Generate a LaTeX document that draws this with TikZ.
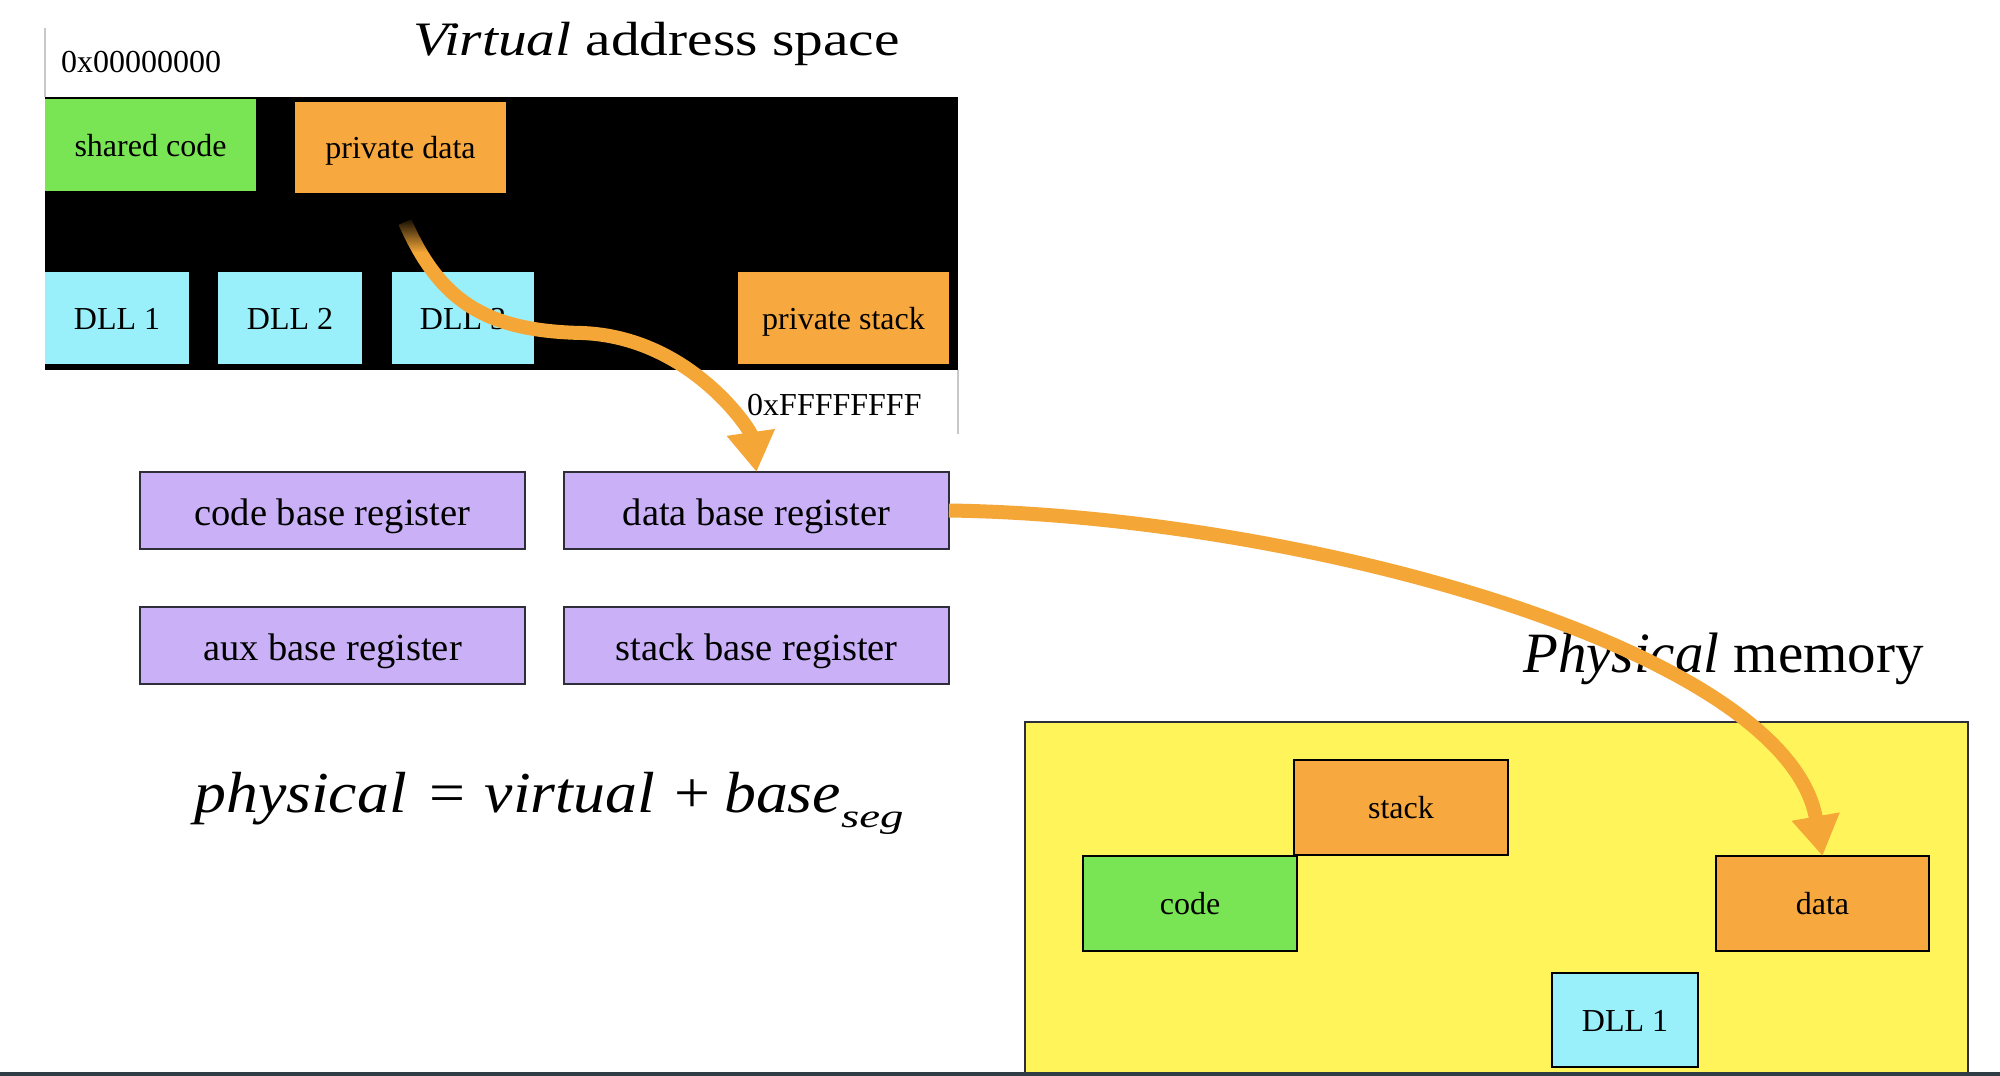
\documentclass[tikz,border=0pt]{standalone}
\usepackage{fontspec}
\setmainfont{Liberation Serif}
\usepackage{graphicx}
\usetikzlibrary{arrows.meta,calc,fadings}
\definecolor{vgreen}{HTML}{79E454}
\definecolor{vorange}{HTML}{F7A83E}
\definecolor{vcyan}{HTML}{9AF0FA}
\definecolor{vpurple}{HTML}{CAB0F7}
\definecolor{vyellow}{HTML}{FFF55A}
\definecolor{arrowor}{HTML}{F4A637}
\definecolor{edgegray}{HTML}{2E2E3A}
\definecolor{barcol}{HTML}{2F3B45}
\definecolor{guidegray}{HTML}{C8C8C8}
\begin{document}
\begin{tikzpicture}[x=1pt,y=-1pt,
  seg/.style={inner sep=0pt, outer sep=0pt, text height=24pt, text depth=2pt,
    font=\fontsize{32}{38}\selectfont, align=center},
  reg/.style={draw=edgegray, line width=2pt, fill=vpurple, inner sep=0pt, outer sep=0pt,
    minimum width=385pt, minimum height=77pt, text height=29pt, text depth=0pt,
    font=\fontsize{38.5}{44}\selectfont},
  phys/.style={draw=black, line width=2pt, inner sep=0pt, outer sep=0pt,
    minimum width=214pt, minimum height=95pt, text height=24pt, text depth=2pt,
    font=\fontsize{32}{38}\selectfont},
  addr/.style={inner sep=0pt, anchor=base west, font=\fontsize{32}{38}\selectfont},
  bigarrow/.style={draw=arrowor, line width=14pt, -{Triangle[length=40pt,width=46pt]}},
]
\useasboundingbox (0,0) rectangle (2000,1076);
\fill[white] (0,0) rectangle (2000,1076);

% guide lines of the address space
\draw[guidegray, line width=1.5pt] (45,28) -- (45,97);
\draw[guidegray, line width=1.5pt] (958,370) -- (958,434);

% virtual address space
\node[fill=black, inner sep=0pt, outer sep=0pt, minimum width=913pt, minimum height=273pt] (vas) at (501.5,233.5) {};
\node[addr] (lowaddr) at (61,72) {0x00000000};
\node[inner sep=0pt, anchor=base west] (vtitle) at (413,55)
  {\scalebox{1.195}[1]{\fontsize{48}{56}\selectfont\textit{Virtual} address space}};
\node[addr] (highaddr) at (747,415) {0xFFFFFFFF};

\node[seg, fill=vgreen, minimum width=211pt, minimum height=92pt] (scode) at (150.5,145) {shared code};
\node[seg, fill=vorange, minimum width=211pt, minimum height=91pt] (pdata) at (400.5,147.5) {private data};
\node[seg, fill=vcyan, minimum width=144pt, minimum height=92pt] (dll1) at (117,318) {DLL 1};
\node[seg, fill=vcyan, minimum width=144pt, minimum height=92pt] (dll2) at (290,318) {DLL 2};
\node[seg, fill=vcyan, minimum width=142pt, minimum height=92pt] (dll3) at (463,318) {DLL 3};
\node[seg, fill=vorange, minimum width=211pt, minimum height=92pt] (pstack) at (843.5,318) {private stack};

% base registers
\node[reg] (creg) at (332.5,510.5) {code base register};
\node[reg] (dreg) at (756.5,510.5) {data base register};
\node[reg] (areg) at (332.5,645.5) {aux base register};
\node[reg] (sreg) at (756.5,645.5) {stack base register};

% formula
\node[inner sep=0pt, anchor=base west] (formula) at (194,812)
  {\scalebox{1.1}[1]{\fontsize{58}{64}\selectfont\textit{physical}\hspace{0.36em}=\hspace{0.3em}\textit{virtual}\hspace{0.3em}+\hspace{0.22em}\textit{base}}\raisebox{-15pt}{\scalebox{1.42}[1]{\fontsize{33}{36}\selectfont\textit{seg}}}};

% physical memory
\node[draw=edgegray, line width=2pt, fill=vyellow, inner sep=0pt, outer sep=0pt,
  minimum width=943pt, minimum height=354pt] (pmem) at (1496.5,899) {};
\node[inner sep=0pt, anchor=base west] (ptitle) at (1523,672)
  {\fontsize{57}{64}\selectfont\textit{Physical} memory};
\node[phys, fill=vorange] (pstk) at (1401,807.5) {stack};
\node[phys, fill=vgreen] (pcode) at (1190,903.5) {code};
\node[phys, fill=vorange, minimum width=213pt] (pdat) at (1822.5,903.5) {data};
\node[phys, fill=vcyan, minimum width=146pt, minimum height=94pt] (pdll) at (1625,1020) {DLL 1};

% bottom bar
\fill[barcol] (0,1072) rectangle (2000,1076);

% arrows
\coordinate (a1start) at ($(pdata.south)+(4.5,29)$);
\coordinate (a1mid) at (582,333);
\draw[bigarrow] (a1start) .. controls +(35,80) and +(-95,-2) .. (a1mid)
  .. controls +(108,4) and +(-6,-42) .. (dreg.north);
\fill[black, path fading=south] (380,216) rectangle (432,252);
\draw[bigarrow] (dreg.east) .. controls +(351,5) and +(-36,-207) .. (pdat.north);
\end{tikzpicture}
\end{document}
